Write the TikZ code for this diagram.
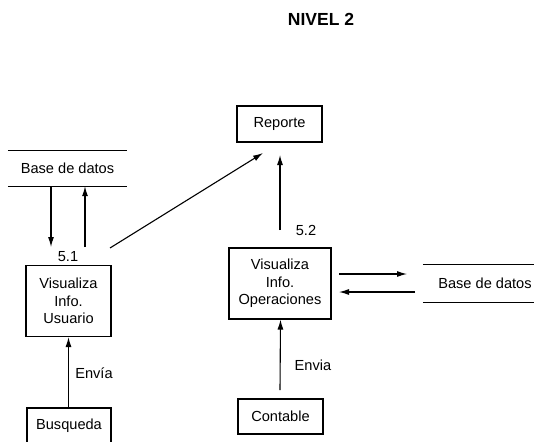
\documentclass[tikz,border=0pt]{standalone}
\usepackage{fontspec}
\setmainfont{Liberation Sans}
\usetikzlibrary{arrows.meta}
\begin{document}
\begin{tikzpicture}[x=1pt,y=-1pt,
  font=\fontsize{14.6}{17.5}\selectfont,
  proc/.style={draw,line width=1.1pt,minimum width=85pt,minimum height=36pt,align=center,inner sep=2pt},
  store/.style={minimum width=119pt,minimum height=35pt,inner sep=0pt},
  arr/.style={line width=1.1pt,-{Latex[length=10pt,width=6pt]}},
  ln/.style={line width=1.1pt}]
\useasboundingbox (0,0) rectangle (534,441);
\clip (0,0) rectangle (534,441);
\node[font=\fontsize{17.5}{20}\selectfont\bfseries] (title) at (321,19) {NIVEL 2};
% left data store
\node[store] (db1) at (67.5,168.5) {Base de datos};
\draw[ln] (db1.north west) -- (db1.north east);
\draw[ln] (db1.south west) -- (db1.south east);
% right data store
\node[store,minimum width=111pt,minimum height=37pt] (db2) at (478.5,283.5) {};
\node (db2t) at (485,283) {Base de datos};
\draw[ln] (db2.north west) -- (db2.north east);
\draw[ln] (db2.south west) -- (db2.south east);
% processes
\node[proc,minimum height=71pt] (p1) at (68.5,301) {Visualiza\\Info.\\Usuario};
\node[proc,minimum width=102pt,minimum height=71pt] (p2) at (280,283.5) {Visualiza\\Info.\\Operaciones};
\node[proc] (rep) at (279.5,124) {Reporte};
\node[proc,minimum height=35pt] (cont) at (280.5,416.5) {Contable};
\node[proc,minimum width=84pt,minimum height=35pt] (bus) at (69,425.5) {Busqueda};
% labels
\node (l51) at (68,257) {5.1};
\node (l52) at (306,230) {5.2};
\node (e1) at (94,373) {Envía};
\node (e2) at (313,365) {Envia};
% coordinates
\coordinate (a1) at (51,247);
\coordinate (a2) at (85,247);
\coordinate (d1) at (110,248);
\coordinate (d2) at (263,153);
\coordinate (r1) at (280,230);
\coordinate (r2) at (280,155);
\coordinate (h1s) at (339,274);
\coordinate (h1e) at (407,274);
\coordinate (h2s) at (415,292);
\coordinate (h2e) at (339,292);
\coordinate (c1) at (280,390);
% connectors
\draw[arr] (db1.south -| a1) -- (a1);
\draw[arr] (a2) -- (db1.south -| a2);
\draw[arr] (d1) -- (d2);
\draw[arr] (r1) -- (r2);
\draw[arr] (h1s) -- (h1e);
\draw[arr] (h2s) -- (h2e);
\draw[arr] (c1) -- (cont.north |- p2.south);
\draw[arr] (bus.north -| p1.south) -- (p1.south);
\end{tikzpicture}
\end{document}
